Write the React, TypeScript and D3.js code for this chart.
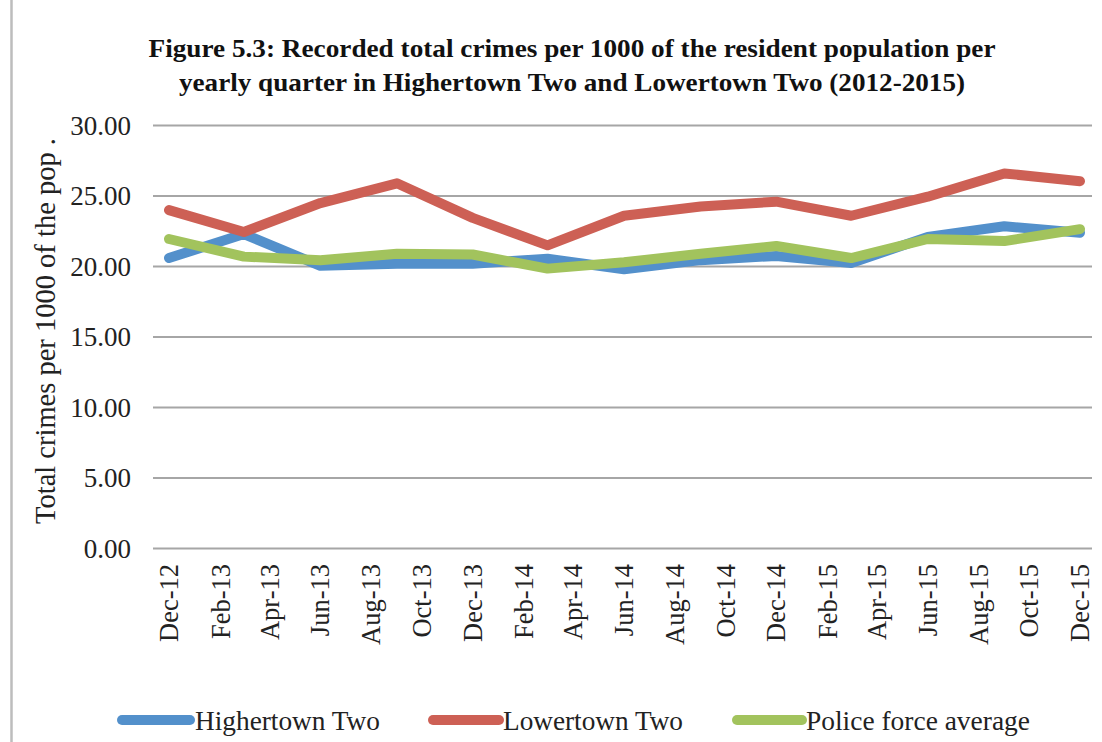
import React from "react";
import * as d3 from "d3";

// Two-month tick labels along the date axis
const tickLabels = [
  "Dec-12", "Feb-13", "Apr-13", "Jun-13", "Aug-13", "Oct-13", "Dec-13",
  "Feb-14", "Apr-14", "Jun-14", "Aug-14", "Oct-14", "Dec-14",
  "Feb-15", "Apr-15", "Jun-15", "Aug-15", "Oct-15", "Dec-15",
];

// Quarter end months the series are recorded at
const quarters = [
  "Dec-12", "Mar-13", "Jun-13", "Sep-13", "Dec-13", "Mar-14", "Jun-14",
  "Sep-14", "Dec-14", "Mar-15", "Jun-15", "Sep-15", "Dec-15",
];

const highertownTwo = [20.6, 22.3, 20.05, 20.2, 20.2, 20.55, 19.8, 20.45, 20.75, 20.25, 22.1, 22.85, 22.4];
const lowertownTwo = [24.0, 22.45, 24.5, 25.9, 23.45, 21.5, 23.6, 24.25, 24.6, 23.6, 24.95, 26.6, 26.05];
const policeForceAverage = [21.95, 20.7, 20.45, 20.9, 20.85, 19.85, 20.3, 20.9, 21.45, 20.6, 21.95, 21.8, 22.65];

const yTicks = [0, 5, 10, 15, 20, 25, 30];

const seriesNames = ["Highertown Two", "Lowertown Two", "Police force average"];
const seriesColors = ["#5390cb", "#cd6055", "#a2c35d"];

const W = 1102;
const H = 742;
const FONT = "'Liberation Serif', 'Times New Roman', serif";

export default function App() {
  const parse = d3.timeParse("%b-%y");
  const tickDates = tickLabels.map((s) => parse(s) as Date);
  const qDates = quarters.map((s) => parse(s) as Date);

  const x = d3
    .scaleTime()
    .domain([tickDates[0], tickDates[tickDates.length - 1]])
    .range([169, 1080]);
  const y = d3.scaleLinear().domain([0, 30]).range([548.5, 125.5]);

  const gridX0 = 153;
  const gridX1 = 1092;

  const line = d3
    .line<number>()
    .x((_, i) => x(qDates[i]))
    .y((v) => y(v));

  const series = [highertownTwo, lowertownTwo, policeForceAverage];

  const legendItems = [
    { x0: 122, x1: 190, tx: 195, len: 185 },
    { x0: 433, x1: 499, tx: 503, len: 180 },
    { x0: 737, x1: 802, tx: 806, len: 224 },
  ];

  return (
    <svg
      width={W}
      height={H}
      style={{ position: "absolute", left: 0, top: 0, background: "#fff" }}
      fontFamily={FONT}
    >
      <rect x={0} y={0} width={W} height={H} fill="#fff" />
      <line x1={11.5} x2={11.5} y1={0} y2={H} stroke="#bdbdbd" strokeWidth={2.5} />

      {/* Title */}
      <text x={572} y={57} textAnchor="middle" fontSize={25} fontWeight="bold" fill="#111"
        textLength={847} lengthAdjust="spacingAndGlyphs">
        Figure 5.3: Recorded total crimes per 1000 of the resident population per
      </text>
      <text x={572} y={91} textAnchor="middle" fontSize={25} fontWeight="bold" fill="#111"
        textLength={786} lengthAdjust="spacingAndGlyphs">
        yearly quarter in Highertown Two and Lowertown Two (2012-2015)
      </text>

      {/* Gridlines and y tick labels */}
      {yTicks.map((t) => (
        <g key={t}>
          <line x1={gridX0} x2={gridX1} y1={y(t)} y2={y(t)} stroke="#a6a6a6" strokeWidth={2} />
          <text x={131} y={y(t)} textAnchor="end" dominantBaseline="central" fontSize={27} fill="#222">
            {d3.format(".2f")(t)}
          </text>
        </g>
      ))}

      {/* Y axis title */}
      <text
        transform={`translate(45, 331) rotate(-90)`}
        textAnchor="middle"
        dominantBaseline="central"
        fontSize={28.5}
        fill="#222"
      >
        Total crimes per 1000 of the pop .
      </text>

      {/* X tick labels */}
      {tickDates.map((d, i) => (
        <text
          key={tickLabels[i]}
          transform={`translate(${x(d)}, 564) rotate(-90)`}
          textAnchor="end"
          dominantBaseline="central"
          fontSize={26.5}
          fill="#222"
        >
          {tickLabels[i]}
        </text>
      ))}

      {/* Series lines */}
      {series.map((s, i) => (
        <path
          key={seriesNames[i]}
          d={line(s) || ""}
          fill="none"
          stroke={seriesColors[i]}
          strokeWidth={10}
          strokeLinejoin="round"
          strokeLinecap="round"
        />
      ))}

      {/* Legend */}
      {legendItems.map((it, i) => (
        <g key={seriesNames[i]}>
          <line x1={it.x0} x2={it.x1} y1={720} y2={720} stroke={seriesColors[i]} strokeWidth={10} strokeLinecap="round" />
          <text x={it.tx} y={721} dominantBaseline="central" fontSize={27} fill="#222"
            textLength={it.len} lengthAdjust="spacingAndGlyphs">
            {seriesNames[i]}
          </text>
        </g>
      ))}
    </svg>
  );
}
